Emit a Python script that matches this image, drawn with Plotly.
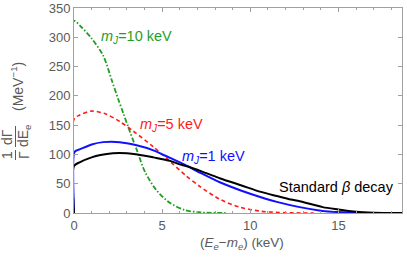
import plotly.graph_objects as go

# Standard beta decay
x_std = [0, 0, 0.35, 1.0, 1.5, 2.2, 3.0, 3.6, 4.5, 5.45, 6.0, 6.5, 7.5, 8.3, 9.5, 10.6, 11.5, 12.3, 12.8, 14.1, 15.0, 16.0, 17.0, 18.6]
y_std = [0, 80, 87, 95, 99, 102, 102, 100, 95, 89, 83, 79, 68, 59, 47, 36, 29, 23, 20, 10, 6, 2, 0.5, 0]

# m_J = 1 keV
x_m1 = [0, 0, 0.1, 0.35, 1.0, 1.65, 2.6, 3.5, 4.5, 5.45, 6.3, 7.2, 8.3, 9.5, 10.6, 11.5, 12.8, 14.0, 15.0, 16.4, 17.6]
y_m1 = [0, 102, 106, 109, 117, 121, 121, 116, 107, 94, 82, 68, 52, 38, 27, 19, 10, 4, 1.5, 0.2, 0]

# m_J = 5 keV
x_m5 = [0, 0, 0.3, 1.0, 1.8, 2.6, 3.35, 4.5, 5.45, 6.3, 7.15, 8.3, 9.4, 10.6, 12.0, 13.6]
y_m5 = [0, 160, 167, 174, 169, 156, 140, 113, 88, 65, 45, 23, 10, 3, 0.5, 0]

# m_J = 10 keV
x_m10 = [0, 0, 0.4, 1.0, 1.65, 2.16, 2.5, 2.8, 3.07, 3.58, 4.03, 4.7, 5.45, 6.3, 7.2, 8.6]
y_m10 = [0, 328, 318, 298, 269, 225, 195, 170, 147, 106, 70, 38, 17, 5, 1, 0]

x_ticks = [0, 5, 10, 15]
y_ticks = [0, 50, 100, 150, 200, 250, 300, 350]

FONT = "Liberation Sans"
GRAY = "#5a5a5a"
GREEN = "#1f9e1f"
RED = "#ff1a1a"
BLUE = "#1010ff"

fig = go.Figure()
fig.add_trace(go.Scatter(x=x_m10, y=y_m10, mode="lines",
                         line=dict(color=GREEN, width=1.8, dash="5px,2px,1.5px,2px", shape="spline", smoothing=0.8)))
fig.add_trace(go.Scatter(x=x_m5, y=y_m5, mode="lines",
                         line=dict(color=RED, width=1.6, dash="4px,3px", shape="spline", smoothing=0.8)))
fig.add_trace(go.Scatter(x=x_m1, y=y_m1, mode="lines",
                         line=dict(color=BLUE, width=2, shape="spline", smoothing=0.8)))
fig.add_trace(go.Scatter(x=x_std, y=y_std, mode="lines",
                         line=dict(color="black", width=2, shape="spline", smoothing=0.8)))

axis_common = dict(showgrid=False, zeroline=False, showline=True, linecolor="#a0a0a0",
                   linewidth=1, mirror="allticks", ticks="inside", ticklen=4, automargin=False,
                   tickcolor="#a0a0a0", tickfont=dict(family=FONT, size=13, color=GRAY))

fig.update_xaxes(range=[0, 18.6], tickvals=x_ticks, ticktext=[str(v) for v in x_ticks],
                 minor=dict(dtick=1, ticks="inside", ticklen=2, tickcolor="#a0a0a0"),
                 **axis_common)
fig.update_yaxes(range=[0, 350], tickvals=y_ticks, ticktext=[str(v) for v in y_ticks],
                 **axis_common)

W, H = 407, 259
L, R, T, B = 74, 5, 8, 46
pw, ph = W - L - R, H - T - B

def px(xp, yp):
    return (xp - L) / pw, 1 - (yp - T) / ph

ann = []
def add_px(text, xp, yp, color, size=14.5, angle=0):
    x, y = px(xp, yp)
    ann.append(dict(text=text, x=x, y=y, xref="paper", yref="paper", showarrow=False,
                    textangle=angle, font=dict(family=FONT, size=size, color=color),
                    xanchor="center", yanchor="middle"))

add_px("<i>m</i><sub><i>J</i></sub>=10 keV", 136, 37, GREEN)
add_px("<i>m</i><sub><i>J</i></sub>=5 keV", 171, 125, RED)
add_px("<i>m</i><sub><i>J</i></sub>=1 keV", 213, 157, BLUE)
add_px("Standard <i>β</i> decay", 336, 187, "black")
add_px("(<i>E</i><sub><i>e</i></sub>−<i>m</i><sub><i>e</i></sub>) (keV)", 242, 244, GRAY, 13.5)

# y-axis label: 1/Γ dΓ/dE_e (MeV^-1), rotated
add_px("1", 7, 155, GRAY, 14, -90)
add_px("dΓ", 7, 137, GRAY, 14, -90)
add_px("Γ", 24, 155, GRAY, 14, -90)
add_px("dE<sub>e</sub>", 24, 136, GRAY, 14, -90)
add_px("(MeV<sup>−1</sup>)", 17, 87, GRAY, 14, -90)

shapes = [
    dict(type="line", xref="paper", yref="paper",
         x0=px(15.5, 0)[0], x1=px(15.5, 0)[0], y0=px(0, 150)[1], y1=px(0, 160)[1],
         line=dict(color=GRAY, width=1)),
    dict(type="line", xref="paper", yref="paper",
         x0=px(15.5, 0)[0], x1=px(15.5, 0)[0], y0=px(0, 126)[1], y1=px(0, 147)[1],
         line=dict(color=GRAY, width=1)),
]

fig.update_layout(width=W, height=H, margin=dict(l=L, r=R, t=T, b=B, autoexpand=False),
                  plot_bgcolor="white", paper_bgcolor="white", showlegend=False,
                  annotations=ann, shapes=shapes)

fig.write_html("out.html", config={"displayModeBar": False},
               post_script="document.body.style.margin='0';document.body.style.padding='0';document.body.style.overflow='hidden';")
